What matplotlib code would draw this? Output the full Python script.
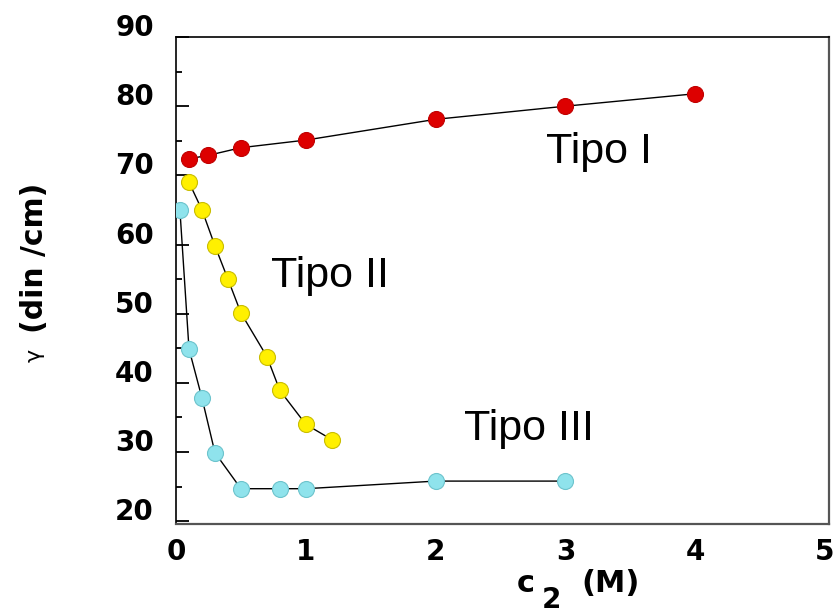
import matplotlib
matplotlib.use("Agg")
import matplotlib.pyplot as plt
from matplotlib.transforms import ScaledTranslation
from matplotlib.ticker import MultipleLocator

# Data (c2 in M, gamma in din/cm)
x_tipo1 = [0.1, 0.25, 0.5, 1.0, 2.0, 3.0, 4.0]
y_tipo1 = [72.4, 72.9, 74.0, 75.1, 78.1, 80.0, 81.8]

x_tipo2 = [0.1, 0.2, 0.3, 0.4, 0.5, 0.7, 0.8, 1.0, 1.2]
y_tipo2 = [69.0, 65.0, 59.8, 55.0, 50.1, 43.8, 38.9, 34.0, 31.8]

x_tipo3 = [0.03, 0.1, 0.2, 0.3, 0.5, 0.8, 1.0, 2.0, 3.0]
y_tipo3 = [65.0, 44.9, 37.8, 29.9, 24.7, 24.7, 24.7, 25.8, 25.8]

labels = ["Tipo I", "Tipo II", "Tipo III"]
label_pos = [(2.85, 71.8), (0.73, 53.8), (2.22, 31.7)]

y_ticks = [20, 30, 40, 50, 60, 70, 80, 90]
x_ticks = [0, 1, 2, 3, 4, 5]

fig = plt.figure(figsize=(8.39, 6.15), dpi=100)
ax = fig.add_axes([0.2098, 0.148, 0.988 - 0.2098, 0.9398 - 0.148])

ms = 11.5
ax.plot(x_tipo1, y_tipo1, '-', color='black', lw=1.0, zorder=2)
ax.plot(x_tipo1, y_tipo1, 'o', ms=ms, mfc='#dd0000', mec='#c00000', mew=0.8, zorder=3)
ax.plot(x_tipo2, y_tipo2, '-', color='black', lw=1.0, zorder=2)
ax.plot(x_tipo2, y_tipo2, 'o', ms=ms, mfc='#fff000', mec='#c9bd00', mew=0.8, zorder=3)
ax.plot(x_tipo3, y_tipo3, '-', color='black', lw=1.0, zorder=2)
ax.plot(x_tipo3, y_tipo3, 'o', ms=ms, mfc='#8fe3ec', mec='#6cc3cc', mew=0.8, zorder=3)

for lab, (tx, ty) in zip(labels, label_pos):
    ax.text(tx, ty, lab, fontsize=31, family='Liberation Sans',
            ha='left', va='baseline')

ax.set_xlim(0, 5.03)
ax.set_ylim(19.6, 90)
ax.set_yticks(y_ticks)
ax.yaxis.set_minor_locator(MultipleLocator(5))
ax.set_xticks(x_ticks)
ax.set_xticklabels([str(v) for v in x_ticks])
ax.set_yticklabels([str(v) for v in y_ticks])

ax.tick_params(axis='y', which='major', direction='in', length=9, width=1.3,
               labelsize=20, pad=16)
ax.tick_params(axis='y', which='minor', direction='in', length=4.5, width=1.3)
ax.tick_params(axis='x', which='both', length=0, labelsize=20, pad=10)
for lbl in ax.get_yticklabels() + ax.get_xticklabels():
    lbl.set_fontweight('bold')
for lbl in ax.get_yticklabels():
    lbl.set_transform(lbl.get_transform() + ScaledTranslation(0, 12 / 100, fig.dpi_scale_trans))

ax.spines['top'].set_color('black')
ax.spines['left'].set_color('black')
ax.spines['top'].set_linewidth(1.2)
ax.spines['left'].set_linewidth(1.2)
ax.spines['bottom'].set_color('#555555')
ax.spines['right'].set_color('#555555')
ax.spines['bottom'].set_linewidth(1.6)
ax.spines['right'].set_linewidth(1.6)

# Y label: gamma + (din /cm)
fig.text(35 / 839, 1 - 355 / 615, "γ", fontsize=16, rotation=90,
         ha='center', va='center')
fig.text(35 / 839, 1 - 258 / 615, "(din /cm)", fontsize=21.5, fontweight='bold',
         rotation=90, ha='center', va='center')

# X label: c_2 (M)
fig.text(526 / 839, 1 - 583 / 615, "c", fontsize=22, fontweight='bold',
         ha='center', va='center')
fig.text(551 / 839, 1 - 600 / 615, "2", fontsize=20, fontweight='bold',
         ha='center', va='center')
fig.text(611 / 839, 1 - 583 / 615, "(M)", fontsize=22, fontweight='bold',
         ha='center', va='center')

fig.savefig("out.png", dpi=100)
